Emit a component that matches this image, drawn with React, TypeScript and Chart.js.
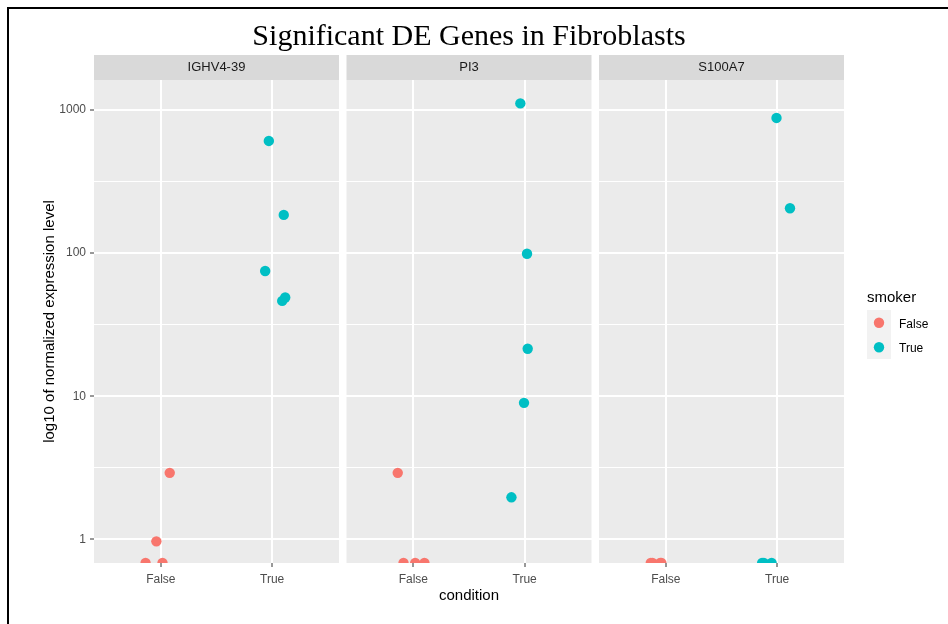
import React, { useEffect, useRef } from "react";
import { Chart, registerables } from "chart.js";

Chart.register(...registerables);

// ---------- data ----------
const chartTitle = "Significant DE Genes in Fibroblasts";
const genes = ["IGHV4-39", "PI3", "S100A7"];
const conditionLabels = ["False", "True"];
const smokerLabels = ["False", "True"];
const smokerColors = ["#F8766D", "#00BFC4"];
const yTickValues = [1, 10, 100, 1000];
const yTickLabels = ["1", "10", "100", "1000"];
const yAxisTitle = "log10 of normalized expression level";
const xAxisTitle = "condition";
const legendTitle = "smoker";

// expression per sample; 0 = not expressed (drawn at the panel floor, like ggplot's -Inf on a log axis)
const ighvNonSmoker = [2.92, 0.97, 0, 0];
const ighvNonSmokerJitter = [0.08, -0.04, -0.137, 0.015];
const ighvSmoker = [608, 185, 75, 46.4, 49];
const ighvSmokerJitter = [-0.03, 0.104, -0.063, 0.09, 0.117];

const pi3NonSmoker = [2.92, 0, 0, 0];
const pi3NonSmokerJitter = [-0.14, -0.088, 0.017, 0.1];
const pi3Smoker = [1112, 99, 21.5, 9.0, 1.97];
const pi3SmokerJitter = [-0.039, 0.021, 0.027, -0.006, -0.119];

const s100NonSmoker = [0, 0, 0, 0];
const s100NonSmokerJitter = [-0.135, -0.12, -0.05, -0.04];
const s100Smoker = [880, 206, 0, 0, 0];
const s100SmokerJitter = [-0.006, 0.115, -0.135, -0.12, -0.05];

// ---------- axis limits (ggplot log10 scale with 5% expansion) ----------
const Y_MIN = 0.685;
const Y_MAX = 1620;
const X_MIN = -0.6;
const X_MAX = 1.6;

const panelValues = [
  [ighvNonSmoker, ighvSmoker],
  [pi3NonSmoker, pi3Smoker],
  [s100NonSmoker, s100Smoker],
];
const panelJitter = [
  [ighvNonSmokerJitter, ighvSmokerJitter],
  [pi3NonSmokerJitter, pi3SmokerJitter],
  [s100NonSmokerJitter, s100SmokerJitter],
];

const SANS = '"Liberation Sans", Arial, sans-serif';
const SERIF = '"Liberation Serif", "Times New Roman", serif';
const PANEL_BG = "#EBEBEB";
const STRIP_BG = "#D9D9D9";
const AXIS_TEXT = "#4D4D4D";
const TICK_COLOR = "#333333";

const POINT_R = 5.2;
const X_AXIS_HEIGHT = 61;
const Y_AXIS_WIDTH = 94;
const STRIP_H = 25;

function buildDatasets() {
  const ds: any[] = [];
  genes.forEach((gene, g) => {
    smokerLabels.forEach((s, si) => {
      const vals = panelValues[g][si];
      const jit = panelJitter[g][si];
      ds.push({
        label: gene + " / smoker " + s,
        xAxisID: "x" + g,
        yAxisID: "y",
        data: vals.map((v, i) => ({ x: si + jit[i], y: v === 0 ? Y_MIN : v })),
        backgroundColor: smokerColors[si],
        borderColor: smokerColors[si],
        borderWidth: 0,
        pointRadius: POINT_R,
        pointHoverRadius: POINT_R,
        showLine: false,
        clip: 0,
      });
    });
  });
  return ds;
}

const fixHeight = (scale: any) => {
  scale.height = X_AXIS_HEIGHT;
};

function panelScale(g: number) {
  return {
    type: "linear",
    position: "bottom",
    stack: "facets",
    stackWeight: 245,
    min: X_MIN,
    max: X_MAX,
    afterBuildTicks: (scale: any) => {
      scale.ticks = conditionLabels.map((_, i) => ({ value: i }));
    },
    afterFit: fixHeight,
    ticks: {
      callback: (v: any) => conditionLabels[v] ?? "",
      color: AXIS_TEXT,
      font: { family: SANS, size: 12 },
      padding: 5,
      maxRotation: 0,
      autoSkip: false,
    },
    grid: {
      color: "#FFFFFF",
      lineWidth: 2,
      drawTicks: true,
      tickLength: 4,
      tickColor: TICK_COLOR,
      tickWidth: 1,
    },
    border: { display: false },
    title: {
      display: g === 1,
      text: xAxisTitle,
      color: "#000000",
      font: { family: SANS, size: 15 },
      padding: { top: 0, bottom: 19 },
    },
  };
}

function gapScale() {
  return {
    type: "linear",
    position: "bottom",
    stack: "facets",
    stackWeight: 7.5,
    afterFit: fixHeight,
    ticks: { display: false },
    grid: { display: false, drawTicks: false },
    border: { display: false },
  };
}

const facetPlugin = {
  id: "facetDecor",
  beforeDraw(chart: any) {
    const { ctx, chartArea } = chart;
    ctx.save();
    genes.forEach((gene, g) => {
      const sc = chart.scales["x" + g];
      ctx.fillStyle = PANEL_BG;
      ctx.fillRect(sc.left, chartArea.top, sc.right - sc.left, chartArea.bottom - chartArea.top);
      ctx.fillStyle = STRIP_BG;
      ctx.fillRect(sc.left, chartArea.top - STRIP_H, sc.right - sc.left, STRIP_H);
      ctx.fillStyle = "#1A1A1A";
      ctx.font = "13px " + SANS;
      ctx.textAlign = "center";
      ctx.textBaseline = "middle";
      ctx.fillText(gene, (sc.left + sc.right) / 2, chartArea.top - STRIP_H / 2);
    });
    ctx.restore();
  },
  afterDraw(chart: any) {
    const { ctx, chartArea } = chart;
    const lx = chartArea.right + 23;
    ctx.save();
    ctx.fillStyle = "#000000";
    ctx.font = "15px " + SANS;
    ctx.textAlign = "left";
    ctx.textBaseline = "middle";
    ctx.fillText(legendTitle, lx, 298);
    const keyTop = 310;
    const keyH = 24.5;
    ctx.fillStyle = "#F2F2F2";
    ctx.fillRect(lx, keyTop, 24, keyH * smokerLabels.length);
    smokerLabels.forEach((s, i) => {
      const cy = keyTop + keyH * i + 12.7;
      ctx.fillStyle = smokerColors[i];
      ctx.beginPath();
      ctx.arc(lx + 12, cy, POINT_R, 0, Math.PI * 2);
      ctx.fill();
      ctx.fillStyle = "#000000";
      ctx.font = "12px " + SANS;
      ctx.fillText(s, lx + 32, cy + 1.5);
    });
    ctx.restore();
  },
};

export default function App() {
  const ref = useRef<HTMLCanvasElement>(null);

  useEffect(() => {
    if (!ref.current) return;
    const chart = new Chart(ref.current, {
      type: "scatter",
      data: { datasets: buildDatasets() },
      options: {
        responsive: false,
        maintainAspectRatio: false,
        animation: false,
        events: [],
        layout: { padding: { left: 0, right: 104, top: 0, bottom: 0 } },
        plugins: {
          legend: { display: false },
          tooltip: { enabled: false },
          title: {
            display: true,
            text: chartTitle,
            fullSize: false,
            color: "#000000",
            font: { family: SERIF, size: 30, weight: "normal" },
            padding: { top: 19, bottom: 25 },
          },
        },
        scales: {
          x0: panelScale(0),
          g1: gapScale(),
          x1: panelScale(1),
          g2: gapScale(),
          x2: panelScale(2),
          y: {
            type: "logarithmic",
            position: "left",
            min: Y_MIN,
            max: Y_MAX,
            afterBuildTicks: (scale: any) => {
              const t: any[] = [];
              yTickValues.forEach((v, i) => {
                t.push({ value: v });
                if (i < yTickValues.length - 1) {
                  t.push({ value: Math.sqrt(v * yTickValues[i + 1]) });
                }
              });
              scale.ticks = t;
            },
            afterFit: (scale: any) => {
              scale.width = Y_AXIS_WIDTH;
            },
            ticks: {
              callback: (v: any) => {
                const i = yTickValues.indexOf(v);
                return i >= 0 ? yTickLabels[i] : "";
              },
              color: AXIS_TEXT,
              font: { family: SANS, size: 12 },
              padding: 4,
              autoSkip: false,
            },
            grid: {
              color: "#FFFFFF",
              lineWidth: (c: any) => (yTickValues.includes(c.tick?.value) ? 2 : 1),
              drawTicks: true,
              tickLength: 4,
              tickWidth: 1,
              tickColor: (c: any) =>
                yTickValues.includes(c.tick?.value) ? TICK_COLOR : "rgba(0,0,0,0)",
            },
            border: { display: false },
            title: {
              display: true,
              text: yAxisTitle,
              color: "#000000",
              font: { family: SANS, size: 15 },
              padding: { top: 41, bottom: 0 },
            },
          },
        } as any,
      },
      plugins: [facetPlugin],
    } as any);
    return () => chart.destroy();
  }, []);

  return (
    <div style={{ position: "absolute", left: 0, top: 0, width: 948, height: 624, background: "#FFFFFF" }}>
      <canvas
        ref={ref}
        width={948}
        height={624}
        style={{ position: "absolute", left: 0, top: 0, width: 948, height: 624 }}
      />
      <div style={{ position: "absolute", left: 7, top: 7, width: 941, height: 2, background: "#000000" }} />
      <div style={{ position: "absolute", left: 7, top: 7, width: 2, height: 617, background: "#000000" }} />
    </div>
  );
}
